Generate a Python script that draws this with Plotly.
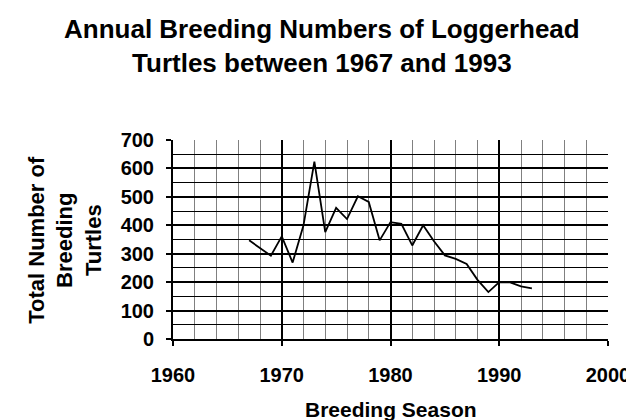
import plotly.graph_objects as go

# Loggerhead breeding numbers
years = [1967, 1968, 1969, 1970, 1971, 1972, 1973, 1974, 1975, 1976, 1977, 1978, 1979,
         1980, 1981, 1982, 1983, 1984, 1985, 1986, 1987, 1988, 1989, 1990, 1991, 1992, 1993]
turtles = [347, 320, 293, 361, 269, 400, 624, 376, 461, 422, 502, 482, 347,
           411, 405, 329, 400, 344, 294, 282, 264, 208, 165, 200, 199, 185, 178]

x_ticks = [1960, 1970, 1980, 1990, 2000]
y_ticks = [0, 100, 200, 300, 400, 500, 600, 700]

font_family = "Liberation Sans, Arial, sans-serif"

fig = go.Figure()
fig.add_trace(go.Scatter(
    x=years, y=turtles,
    mode='lines',
    line=dict(color='black', width=1.8),
    showlegend=False
))

fig.update_layout(
    width=634, height=420,
    paper_bgcolor='white', plot_bgcolor='white',
    margin=dict(l=165, r=25, t=132, b=89),
    font=dict(family=font_family, color='black'),
    xaxis=dict(
        range=[1960, 2000], tickvals=x_ticks,
        tickfont=dict(size=20, family=font_family, weight='bold'),
        ticks='outside', ticklen=5, tickcolor='black', tickwidth=2,
        ticklabelstandoff=12,
        showgrid=True, gridcolor='black', gridwidth=2,
        showline=True, linecolor='black', linewidth=2,
        minor=dict(dtick=2, showgrid=True, gridcolor='#808080', gridwidth=1),
        zeroline=False,
    ),
    yaxis=dict(
        range=[0, 700], tickvals=y_ticks,
        tickfont=dict(size=20, family=font_family, weight='bold'),
        ticks='outside', ticklen=5, tickcolor='black', tickwidth=2,
        ticklabelstandoff=8,
        showgrid=True, gridcolor='black', gridwidth=2,
        showline=True, linecolor='black', linewidth=2,
        minor=dict(dtick=50, showgrid=True, gridcolor='black', gridwidth=1),
        zeroline=False,
    ),
)

# chart title, two lines
fig.add_annotation(
    text='<b>Annual Breeding Numbers of Loggerhead<br>Turtles between 1967 and 1993</b>',
    xref='paper', yref='paper', x=0.342, y=1.47,
    xanchor='center', yanchor='middle', showarrow=False,
    font=dict(size=26, family=font_family, color='black')
)

# x-axis title
fig.add_annotation(
    text='<b>Breeding Season</b>',
    xref='paper', yref='paper', x=0.5, y=-0.422,
    xanchor='center', yanchor='bottom', showarrow=False,
    font=dict(size=21, family=font_family, color='black')
)

# rotated multi-line y-axis title
fig.add_annotation(
    text='<b>Total Number of<br>Breeding<br>Turtles</b>',
    xref='paper', yref='paper', x=-0.25, y=0.5,
    xanchor='center', yanchor='middle',
    textangle=-90, showarrow=False,
    font=dict(size=22, family=font_family, color='black')
)

fig.write_html("out.html")
